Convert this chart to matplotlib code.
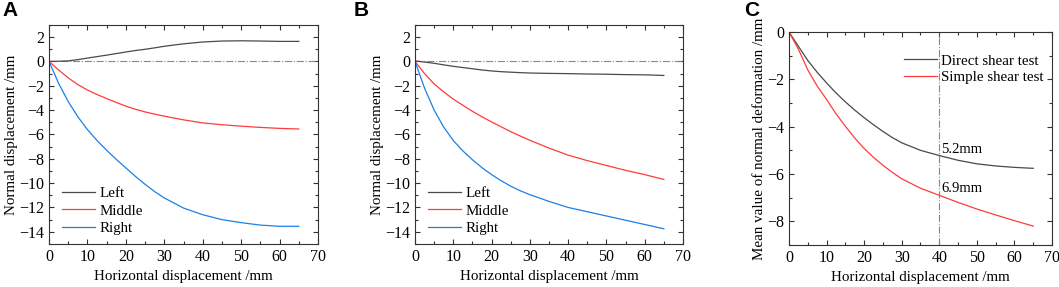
import matplotlib.pyplot as plt
from matplotlib.ticker import MultipleLocator

# horizontal displacement (mm), shared by every curve
x = [0, 2.5, 5, 7.5, 10, 12.5, 15, 17.5, 20, 22.5, 25, 27.5, 30, 35, 40, 45, 50, 55, 60, 65]

# panel A: normal displacement at three measuring points
A_left = [0, 0.02, 0.05, 0.15, 0.28, 0.4, 0.52, 0.65, 0.78, 0.9, 1.0, 1.12, 1.25, 1.45, 1.6, 1.68, 1.7, 1.68, 1.65, 1.65]
A_middle = [0, -0.7, -1.35, -1.9, -2.35, -2.72, -3.05, -3.37, -3.67, -3.93, -4.15, -4.33, -4.5, -4.8, -5.05, -5.2, -5.32, -5.42, -5.5, -5.55]
A_right = [0, -1.8, -3.3, -4.55, -5.6, -6.5, -7.3, -8.05, -8.75, -9.45, -10.1, -10.7, -11.22, -12.05, -12.6, -13.0, -13.25, -13.45, -13.55, -13.55]

# panel B
B_left = [0.05, -0.05, -0.15, -0.28, -0.4, -0.5, -0.6, -0.7, -0.78, -0.84, -0.88, -0.92, -0.95, -0.98, -1.0, -1.03, -1.05, -1.08, -1.1, -1.15]
B_middle = [0, -1.0, -1.85, -2.5, -3.1, -3.6, -4.1, -4.55, -4.97, -5.37, -5.77, -6.13, -6.48, -7.12, -7.7, -8.15, -8.55, -8.95, -9.3, -9.7]
B_right = [0, -2.2, -4.0, -5.4, -6.5, -7.35, -8.08, -8.73, -9.3, -9.8, -10.25, -10.63, -10.95, -11.5, -12.0, -12.35, -12.7, -13.05, -13.4, -13.75]

# panel C: mean normal deformation
C_direct = [0, -0.6, -1.2, -1.7, -2.15, -2.57, -2.95, -3.3, -3.62, -3.92, -4.2, -4.46, -4.68, -5.0, -5.22, -5.42, -5.57, -5.66, -5.72, -5.76]
C_simple = [0, -0.72, -1.6, -2.28, -2.85, -3.45, -3.98, -4.48, -4.92, -5.3, -5.63, -5.93, -6.2, -6.6, -6.9, -7.2, -7.48, -7.73, -7.97, -8.2]

c_gray = '#4a4a4a'
c_red = '#ff3b3b'
c_blue = '#1a80e6'

plt.rcParams['font.family'] = 'Liberation Serif'
plt.rcParams['font.size'] = 10.5

fig = plt.figure(figsize=(10.59, 2.87), dpi=100)


def style(ax, ylim, ymaj):
    ax.set_xlim(0, 70)
    ax.set_ylim(ylim)
    ax.xaxis.set_major_locator(MultipleLocator(10))
    ax.xaxis.set_minor_locator(MultipleLocator(5))
    ax.yaxis.set_major_locator(MultipleLocator(ymaj))
    ax.yaxis.set_minor_locator(MultipleLocator(ymaj / 2))
    ax.tick_params(which='both', direction='in', top=True, right=True, color='#333333',
                   width=0.8, labelsize=11.5)
    ax.tick_params(which='major', length=3.5)
    ax.tick_params(which='minor', length=2)
    for s in ax.spines.values():
        s.set_color('#333333')
        s.set_linewidth(0.8)
    ax.set_xlabel('Horizontal displacement /mm', fontsize=10.8, labelpad=3.5)


def three_lines(ax, left, middle, right):
    ax.plot([0, 70], [0, 0], color='#888888', lw=0.8, ls='-.')
    ax.plot(x, left, color=c_gray, lw=0.9, label='Left')
    ax.plot(x, middle, color=c_red, lw=0.9, label='Middle')
    ax.plot(x, right, color=c_blue, lw=0.9, label='Right')
    style(ax, (-15, 3), 2)
    ax.set_ylabel('Normal displacement /mm', fontsize=10.8, labelpad=1)
    ax.legend(loc='lower left', frameon=False, fontsize=10.8, handlelength=2.2,
              handletextpad=0.3, labelspacing=0.25, borderaxespad=0.2,
              bbox_to_anchor=(0.015, 0.0))


axA = fig.add_axes([0.0463, 0.150, 0.254, 0.763])
three_lines(axA, A_left, A_middle, A_right)

axB = fig.add_axes([0.3919, 0.150, 0.253, 0.763])
three_lines(axB, B_left, B_middle, B_right)

axC = fig.add_axes([0.745, 0.1463, 0.2484, 0.7422])
axC.axvline(40, color='#888888', lw=0.8, ls='-.')
axC.plot(x, C_direct, color=c_gray, lw=0.9, label='Direct shear test')
axC.plot(x, C_simple, color=c_red, lw=0.9, label='Simple shear test')
style(axC, (-9, 0), 2)
axC.set_ylabel('Mean value of normal deformation /mm', fontsize=10.8, labelpad=1)
axC.text(40.5, -4.97, '5.2mm', fontsize=10.5, va='center', ha='left')
axC.text(40.5, -6.6, '6.9mm', fontsize=10.5, va='center', ha='left')
axC.legend(loc='upper right', frameon=False, fontsize=10.8, handlelength=2.2,
           handletextpad=0.3, labelspacing=0.2, bbox_to_anchor=(1.02, 0.96))

for lab, xp in [('A', 0.002), ('B', 0.334), ('C', 0.703)]:
    fig.text(xp, 0.995, lab, fontsize=15, fontweight='bold', family='Liberation Sans',
             va='top', ha='left')

fig.savefig('out.png', dpi=100)
